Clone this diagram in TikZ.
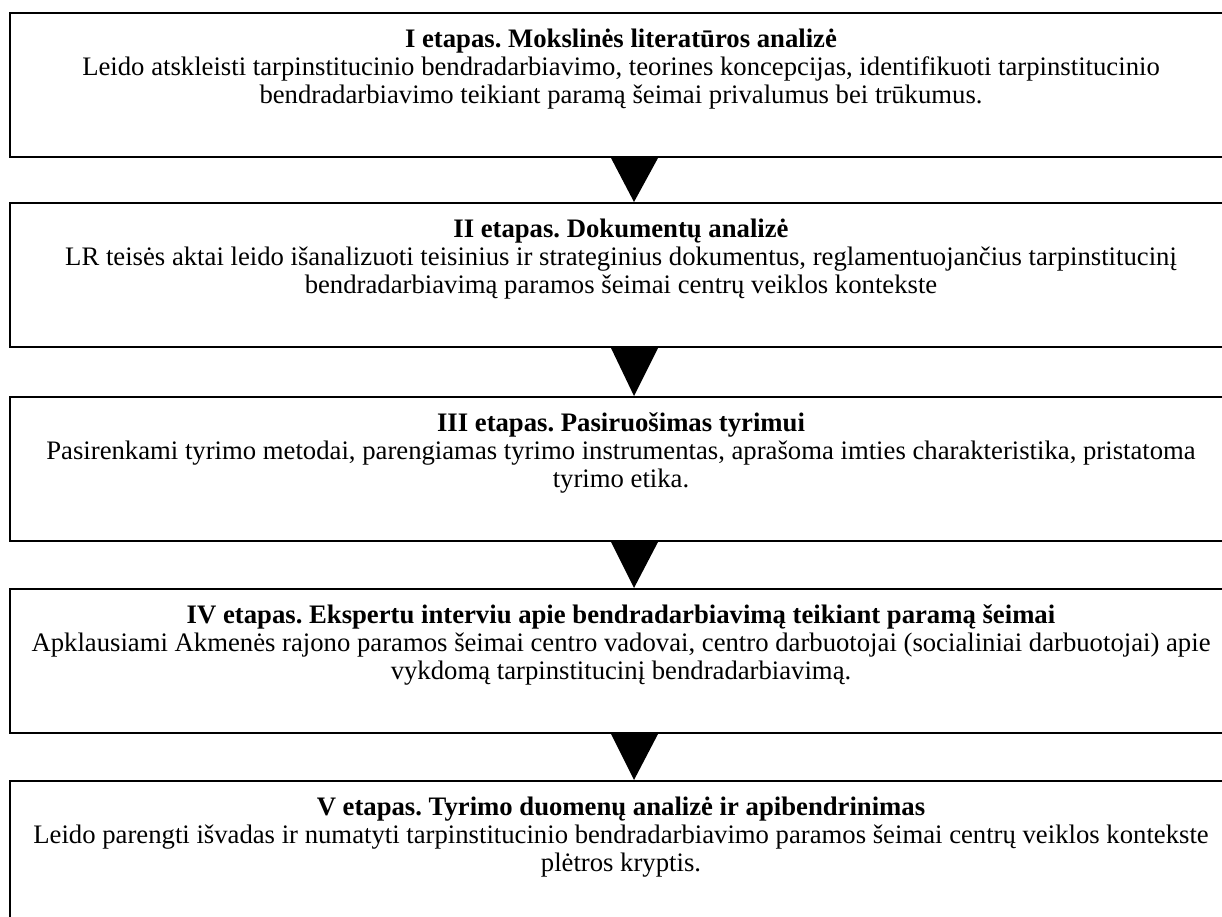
\documentclass[tikz,border=0pt]{standalone}
\usepackage{fontspec}
\setmainfont{Liberation Serif}
\usetikzlibrary{calc}
\frenchspacing
\tikzset{
  stagebox/.style={draw=black, line width=2pt, minimum width=1222pt, minimum height=144pt, anchor=north west, inner sep=0pt},
  stagetext/.style={anchor=north, align=center, inner sep=0pt, font=\fontsize{26.7}{28}\selectfont\frenchspacing},
  flowtri/.style={fill=black}
}
\newcommand{\tstrut}{\rule{0pt}{22pt}}
\begin{document}
\begin{tikzpicture}
\useasboundingbox (0pt,0pt) rectangle (1222pt,-917pt);
\clip (0pt,0pt) rectangle (1222pt,-917pt);
\node[stagebox] (b1) at (9pt,-12pt) {};
\node[stagebox] (b2) at (9pt,-202pt) {};
\node[stagebox] (b3) at (9pt,-396pt) {};
\node[stagebox] (b4) at (9pt,-588pt) {};
\node[stagebox] (b5) at (9pt,-780pt) {};

\node[stagetext] (t1) at ($(b1.north)+(0,-13pt)$) {\tstrut\textbf{I etapas. Mokslinės literatūros analizė}\\
Leido atskleisti tarpinstitucinio bendradarbiavimo, teorines koncepcijas, identifikuoti tarpinstitucinio\\
bendradarbiavimo teikiant paramą šeimai privalumus bei trūkumus.};
\node[stagetext] (t2) at ($(b2.north)+(0,-13pt)$) {\tstrut\textbf{II etapas. Dokumentų analizė}\\
LR teisės aktai leido išanalizuoti teisinius ir strateginius dokumentus, reglamentuojančius tarpinstitucinį\\
bendradarbiavimą paramos šeimai centrų veiklos kontekste};
\node[stagetext] (t3) at ($(b3.north)+(0,-13pt)$) {\tstrut\textbf{III etapas. Pasiruošimas tyrimui}\\
Pasirenkami tyrimo metodai, parengiamas tyrimo instrumentas, aprašoma imties charakteristika, pristatoma\\
tyrimo etika.};
\node[stagetext] (t4) at ($(b4.north)+(0,-13pt)$) {\tstrut\textbf{IV etapas. Ekspertu interviu apie bendradarbiavimą teikiant paramą šeimai}\\
Apklausiami Akmenės rajono paramos šeimai centro vadovai, centro darbuotojai (socialiniai darbuotojai) apie\\
vykdomą tarpinstitucinį bendradarbiavimą.};
\node[stagetext] (t5) at ($(b5.north)+(0,-13pt)$) {\tstrut\textbf{V etapas. Tyrimo duomenų analizė ir apibendrinimas}\\
Leido parengti išvadas ir numatyti tarpinstitucinio bendradarbiavimo paramos šeimai centrų veiklos kontekste\\
plėtros kryptis.};

\foreach \a/\b in {b1/b2, b2/b3, b3/b4, b4/b5}{
  \fill[flowtri] ($(\a.south)+(-10pt,0)$) -- ($(\a.south)+(37pt,0)$) -- ($(\b.north)+(13pt,0)$) -- cycle;
}
\end{tikzpicture}
\end{document}
